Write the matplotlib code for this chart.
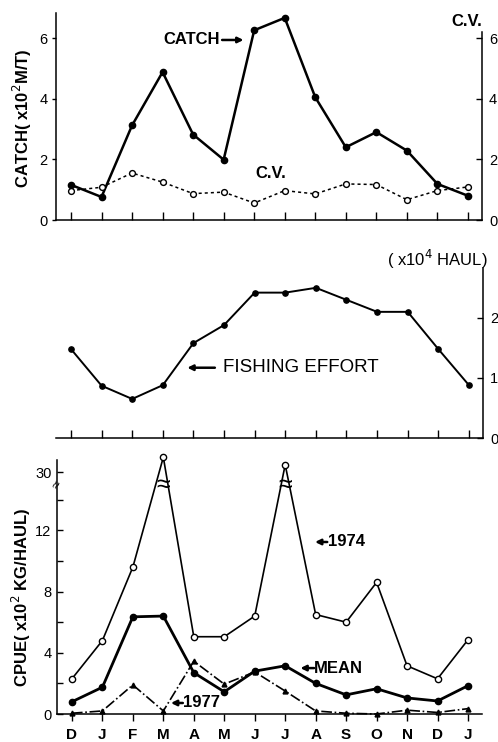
import numpy as np
import matplotlib
matplotlib.use('Agg')
import matplotlib.pyplot as plt

plt.rcParams['font.family'] = ['Liberation Sans', 'DejaVu Sans']

months = ['D', 'J', 'F', 'M', 'A', 'M', 'J', 'J', 'A', 'S', 'O', 'N', 'D', 'J']

# catch (x10^2 M/T) and its C.V.
catch = [1.16, 0.76, 3.12, 4.88, 2.82, 1.99, 6.26, 6.67, 4.05, 2.40, 2.90, 2.29, 1.19, 0.80]
cv = [0.97, 1.08, 1.55, 1.25, 0.87, 0.92, 0.56, 0.97, 0.86, 1.19, 1.17, 0.67, 0.97, 1.09]

# fishing effort (x10^4 haul)
effort = [1.48, 0.87, 0.65, 0.88, 1.58, 1.88, 2.42, 2.42, 2.50, 2.30, 2.10, 2.10, 1.48, 0.88]

# CPUE (x10^2 kg/haul)
cpue_1974 = [2.3, 4.8, 9.6, 31.4, 5.05, 5.05, 6.4, 30.7, 6.5, 6.0, 8.6, 3.15, 2.3, 4.85]
cpue_mean = [0.8, 1.75, 6.35, 6.4, 2.7, 1.45, 2.8, 3.15, 2.0, 1.25, 1.65, 1.05, 0.85, 1.85]
cpue_1977 = [0.05, 0.2, 1.9, 0.2, 3.45, 1.95, 2.75, 1.5, 0.2, 0.05, 0.0, 0.25, 0.1, 0.35]

x = np.arange(len(months))
xlim = (-0.49, 13.46)


# broken y axis for the CPUE panel: 14..30 squeezed
def fwd(v):
    v = np.asarray(v, dtype=float)
    return np.where(v <= 14, v, np.where(v < 30, 14 + (v - 14) * 1.8 / 16, 15.8 + (v - 30) * 0.7))


def inv(s):
    s = np.asarray(s, dtype=float)
    return np.where(s <= 14, s, np.where(s < 15.8, 14 + (s - 14) * 16 / 1.8, 30 + (s - 15.8) / 0.7))


fig = plt.figure(figsize=(4.98, 7.42), dpi=100)
W, H = 498.0, 742.0


def rect(l, t, r, b):
    return [l / W, 1 - b / H, (r - l) / W, (b - t) / H]


def pointer(ax, x0, x1, y):
    ax.annotate('', xy=(x1, y), xytext=(x0, y),
                arrowprops=dict(arrowstyle='-|>', lw=1.8, color='black',
                                mutation_scale=8, shrinkA=0, shrinkB=0))


# ---------- top panel: catch ----------
ax1 = fig.add_axes(rect(56, 13, 482, 220))
ax1.plot(x, catch, '-o', color='black', lw=1.8, ms=4.5, clip_on=False, zorder=3)
ax1.plot(x, cv, linestyle=(0, (2, 2)), marker='o', color='black', lw=1.1, ms=4.2,
         mfc='white', mew=1.0, clip_on=False, zorder=3)
ax1.set_xlim(*xlim)
ax1.set_ylim(0, 6.83)
ax1.set_yticks([0, 2, 4, 6])
ax1.set_xticks(x)
ax1.tick_params(axis='x', direction='in', length=6, width=1, labelbottom=False)
ax1.tick_params(axis='y', direction='out', length=3, width=1, labelsize=10.5, pad=3)
ax1.spines['top'].set_visible(False)
ax1.spines['right'].set_visible(False)
for s in ax1.spines.values():
    s.set_linewidth(1.1)
ax1r = ax1.twinx()
ax1r.set_ylim(0, 6.83)
ax1r.set_yticks([0, 2, 4, 6])
ax1r.spines['right'].set_bounds(0, 6.2)
ax1r.spines['right'].set_linewidth(1.1)
for k in ('top', 'left', 'bottom'):
    ax1r.spines[k].set_visible(False)
ax1r.tick_params(axis='y', direction='in', length=4, width=1, labelsize=10.5, pad=5)

pointer(ax1, 4.95, 5.65, 5.94)
ax1.text(4.88, 5.94, 'CATCH', ha='right', va='center', fontsize=12, fontweight='bold')
ax1.text(6.53, 1.55, 'C.V.', ha='center', va='center', fontsize=12, fontweight='bold')
ax1.text(12.97, 6.55, 'C.V.', ha='center', va='center', fontsize=12, fontweight='bold')
fig.text(22 / W, 1 - 118 / H, 'CATCH( x10$^2$M/T)', rotation=90, ha='center', va='center',
         fontsize=12, fontweight='bold')

# ---------- middle panel: effort ----------
ax2 = fig.add_axes(rect(56, 268, 483, 438))
ax2.plot(x, effort, '-o', color='black', lw=1.4, ms=3.8, clip_on=False, zorder=3)
ax2.set_xlim(*xlim)
ax2.set_ylim(0, 2.83)
ax2.set_xticks(x)
ax2.tick_params(axis='x', direction='in', length=6, width=1, labelbottom=False)
ax2.yaxis.tick_right()
ax2.set_yticks([0, 1, 2])
ax2.tick_params(axis='y', direction='in', length=4, width=1, labelsize=10.5, pad=5)
ax2.spines['top'].set_visible(False)
ax2.spines['left'].set_visible(False)
for s in ax2.spines.values():
    s.set_linewidth(1.1)
pointer(ax2, 4.7, 3.8, 1.17)
ax2.text(4.98, 1.17, 'FISHING EFFORT', ha='left', va='center', fontsize=13.5)
ax2.text(13.62, 2.98, '( x10$^4$ HAUL)', ha='right', va='center', fontsize=12,
         clip_on=False)

# ---------- bottom panel: CPUE ----------
ax3 = fig.add_axes(rect(57, 460, 482, 714))
ax3.set_yscale('function', functions=(fwd, inv))
ax3.plot(x, cpue_1974, '-o', color='black', lw=1.2, ms=4.5, mfc='white', mew=1.0,
         clip_on=False, zorder=3)
ax3.plot(x, cpue_mean, '-o', color='black', lw=2.0, ms=4.5, clip_on=False, zorder=4)
ax3.plot(x, cpue_1977, linestyle='-.', marker='^', color='black', lw=1.2, ms=3.5,
         clip_on=False, zorder=3)
ax3.set_xlim(*xlim)
ax3.set_ylim(0, 31.14)
ax3.set_yticks([0, 2, 4, 6, 8, 10, 12, 14, 30])
ax3.set_yticklabels(['0', '', '4', '', '8', '', '12', '', '30'])
ax3.set_xticks(x)
ax3.set_xticklabels(months, fontweight='bold', fontsize=11)
ax3.tick_params(axis='x', direction='out', length=5, width=1, pad=5)
ax3.tick_params(axis='y', direction='in', length=4, width=1, labelsize=10.5, pad=4)
ax3.spines['top'].set_visible(False)
ax3.spines['right'].set_visible(False)
for s in ax3.spines.values():
    s.set_linewidth(1.1)

# axis break marks
for xi in (3, 7):
    ax3.text(xi, 22.6, '\u2248', ha='center', va='center', fontsize=18, zorder=5)
ax3.text(-0.49, 22.6, '\u2248', ha='center', va='center', fontsize=10, rotation=60,
         zorder=5, clip_on=False)

pointer(ax3, 8.38, 7.98, 11.24)
ax3.text(8.4, 11.24, '1974', ha='left', va='center', fontsize=12, fontweight='bold')
pointer(ax3, 7.95, 7.5, 3.0)
ax3.text(7.95, 3.0, 'MEAN', ha='left', va='center', fontsize=12, fontweight='bold')
pointer(ax3, 3.64, 3.25, 0.72)
ax3.text(3.64, 0.72, '1977', ha='left', va='center', fontsize=12, fontweight='bold')
fig.text(21 / W, 1 - 597 / H, 'CPUE( x10$^2$ KG/HAUL)', rotation=90, ha='center',
         va='center', fontsize=12, fontweight='bold')

fig.savefig('out.png', dpi=100)
